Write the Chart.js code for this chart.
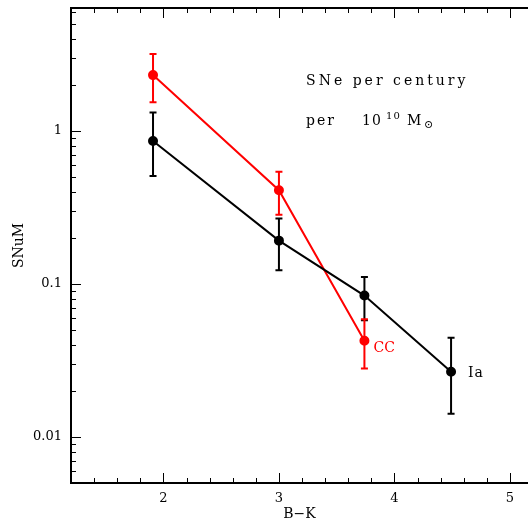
<!DOCTYPE html>
<html>
<head>
<meta charset="utf-8">
<script src="https://cdn.jsdelivr.net/npm/chart.js@4.4.1/dist/chart.umd.min.js"></script>
<style>
  html, body { margin: 0; padding: 0; background: #fff; }
  canvas { display: block; }
</style>
</head>
<body>
<canvas id="snum" width="528" height="523"></canvas>
<script>
// B-K colour of each bin
const bkIa = [1.91, 3.0, 3.74, 4.49];
const bkCC = [1.91, 3.0, 3.74];

// SNuM rates and error bar ends
const rateIa = [0.86, 0.192, 0.084, 0.0267];
const rateIaHi = [1.32, 0.268, 0.111, 0.0445];
const rateIaLo = [0.508, 0.123, 0.058, 0.0142];
const rateCC = [2.32, 0.41, 0.0425];
const rateCCHi = [3.19, 0.542, 0.0588];
const rateCCLo = [1.54, 0.284, 0.028];

const xTicks = [2, 3, 4, 5];
const yTicks = [0.01, 0.1, 1];
const yTickLabels = ['0.01', '0.1', '1'];

const SERIF = '"DejaVu Serif", serif';

const errorBars = {
  id: 'errorBars',
  beforeDatasetsDraw(chart) {
    const { ctx, scales: { x, y } } = chart;
    chart.data.datasets.forEach((ds) => {
      ctx.save();
      ctx.strokeStyle = ds.borderColor;
      ctx.lineWidth = 2;
      ds.data.forEach((p, j) => {
        const px = x.getPixelForValue(p.x);
        const hi = y.getPixelForValue(ds.errHi[j]);
        const lo = y.getPixelForValue(ds.errLo[j]);
        ctx.beginPath();
        ctx.moveTo(px, hi); ctx.lineTo(px, lo);
        ctx.moveTo(px - 3.5, hi); ctx.lineTo(px + 3.5, hi);
        ctx.moveTo(px - 3.5, lo); ctx.lineTo(px + 3.5, lo);
        ctx.stroke();
      });
      ctx.restore();
    });
  },
};

// pgplot-style frame: inward ticks on bottom, top and left
const frame = {
  id: 'frame',
  afterDraw(chart) {
    const { ctx, chartArea: a, scales: { x, y } } = chart;
    ctx.save();
    ctx.strokeStyle = '#000';
    ctx.lineWidth = 2;
    ctx.beginPath();
    ctx.moveTo(a.left - 1, a.top); ctx.lineTo(a.right + 2, a.top);
    ctx.stroke();
    ctx.lineWidth = 1;
    ctx.beginPath();
    for (let v = 1.2; v <= x.max + 1e-6; v += 0.2) {
      const px = Math.round(x.getPixelForValue(v)) + 0.5;
      const major = Math.abs(v - Math.round(v)) < 1e-6;
      const len = major ? 10 : 5;
      ctx.moveTo(px, a.bottom); ctx.lineTo(px, a.bottom - len);
      ctx.moveTo(px, a.top); ctx.lineTo(px, a.top + len);
    }
    for (let d = 0.001; d <= 10; d *= 10) {
      for (let k = 1; k <= 9; k++) {
        const v = d * k;
        if (v < y.min || v > y.max) continue;
        const py = Math.round(y.getPixelForValue(v)) + 0.5;
        const len = k === 1 ? 10 : 5;
        ctx.moveTo(a.left, py); ctx.lineTo(a.left + len, py);
      }
    }
    ctx.stroke();

    // labels
    ctx.fillStyle = '#000';
    ctx.textBaseline = 'alphabetic';
    const tx = x.getPixelForValue(3.235);
    ctx.font = '14px ' + SERIF;
    ctx.letterSpacing = '3px';
    ctx.fillText('SNe per century', tx, y.getPixelForValue(2.0));
    const ly = y.getPixelForValue(1.09);
    ctx.letterSpacing = '2px';
    ctx.fillText('per', tx, ly);
    ctx.letterSpacing = '1px';
    ctx.fillText('10', tx + 56, ly);
    ctx.font = '10px ' + SERIF;
    ctx.fillText('10', tx + 80, ly - 6);
    ctx.font = '14px ' + SERIF;
    ctx.letterSpacing = '0px';
    ctx.fillText('M', tx + 101, ly);
    ctx.font = '11px ' + SERIF;
    ctx.fillText('\u2299', tx + 118, ly + 3);

    ctx.font = '14px ' + SERIF;
    ctx.letterSpacing = '1px';
    const last = bkIa.length - 1;
    ctx.fillText('Ia', x.getPixelForValue(bkIa[last]) + 17, y.getPixelForValue(rateIa[last]) + 5);
    ctx.fillStyle = '#ff0000';
    ctx.letterSpacing = '0px';
    const lc = bkCC.length - 1;
    ctx.fillText('CC', x.getPixelForValue(bkCC[lc]) + 9, y.getPixelForValue(rateCC[lc]) + 11);
    ctx.restore();
  },
};

new Chart(document.getElementById('snum'), {
  type: 'line',
  data: {
    datasets: [
      {
        label: 'Ia',
        data: bkIa.map((v, i) => ({ x: v, y: rateIa[i] })),
        errHi: rateIaHi,
        errLo: rateIaLo,
        borderColor: '#000000',
        backgroundColor: '#000000',
        borderWidth: 2,
        pointRadius: 4,
        tension: 0,
      },
      {
        label: 'CC',
        data: bkCC.map((v, i) => ({ x: v, y: rateCC[i] })),
        errHi: rateCCHi,
        errLo: rateCCLo,
        borderColor: '#ff0000',
        backgroundColor: '#ff0000',
        borderWidth: 2,
        pointRadius: 4,
        tension: 0,
      },
    ],
  },
  options: {
    responsive: false,
    animation: false,
    devicePixelRatio: 1,
    layout: { autoPadding: false, padding: { top: 8, right: 0, left: 0, bottom: 0 } },
    plugins: { legend: { display: false }, tooltip: { enabled: false } },
    scales: {
      x: {
        type: 'linear',
        min: 1.2,
        max: 5.156,
        afterBuildTicks: (s) => { s.ticks = xTicks.map((v) => ({ value: v })); },
        afterFit: (s) => { s.height = 40; s.paddingLeft = 0; s.paddingRight = 0; },
        grid: { display: false, drawTicks: false },
        border: { display: true, color: '#000', width: 2 },
        ticks: {
          padding: 8,
          color: '#000',
          font: { family: SERIF, size: 13 },
          maxRotation: 0,
          callback: (v) => String(v),
        },
        title: {
          display: true,
          text: 'B\u2212K',
          color: '#000',
          font: { family: SERIF, size: 14 },
          padding: { top: 0, bottom: 0 },
        },
      },
      y: {
        type: 'logarithmic',
        min: 0.005,
        max: 6.37,
        afterBuildTicks: (s) => { s.ticks = yTicks.map((v) => ({ value: v })); },
        afterFit: (s) => { s.width = 71; s.paddingTop = 0; s.paddingBottom = 0; },
        grid: { display: false, drawTicks: false },
        border: { display: true, color: '#000', width: 2 },
        ticks: {
          padding: 9,
          color: '#000',
          font: { family: SERIF, size: 13 },
          callback: (v) => yTickLabels[yTicks.indexOf(v)],
        },
        title: {
          display: true,
          text: 'SNuM',
          color: '#000',
          font: { family: SERIF, size: 14 },
          padding: { top: 11, bottom: 0 },
        },
      },
    },
  },
  plugins: [errorBars, frame],
});
</script>
</body>
</html>
